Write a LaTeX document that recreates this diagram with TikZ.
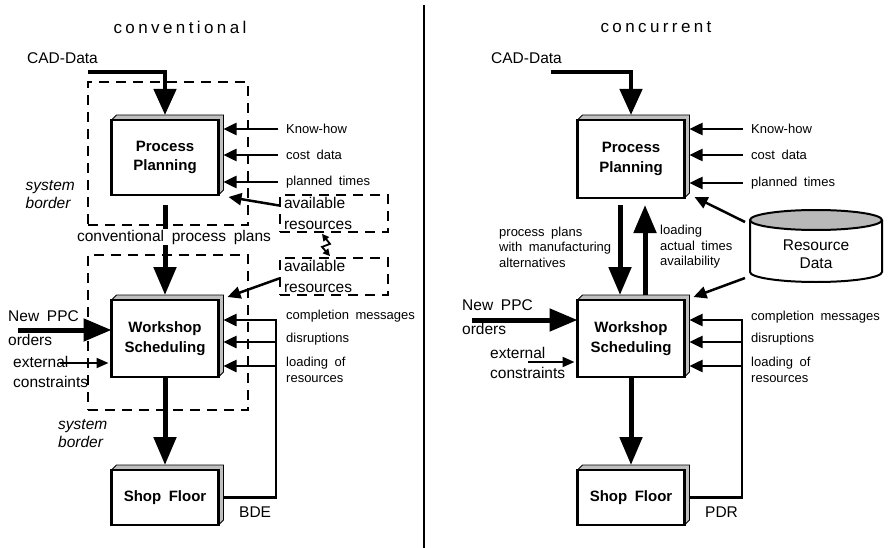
\documentclass[tikz,border=0pt]{standalone}
\usepackage{fontspec}
\setmainfont[WordSpace=1.8]{Liberation Sans}
\usetikzlibrary{arrows.meta,positioning}

\tikzstyle{block} = [rectangle, draw, line width=2.6pt, fill=white, minimum width=107pt,
    inner sep=0pt, outer sep=0pt, align=center, font=\fontsize{15}{19.5}\selectfont\bfseries]
\tikzstyle{txt} = [inner sep=0pt, align=left, font=\fontsize{13}{15.5}\selectfont]
\tikzstyle{bigtxt} = [inner sep=0pt, align=left, font=\fontsize{15.5}{18}\selectfont]
\tikzstyle{heading} = [inner sep=0pt, font=\fontsize{17}{20}\selectfont\addfontfeature{LetterSpace=20}]
\tikzstyle{sysborder} = [draw, line width=1.8pt, dash pattern=on 10pt off 7pt]
\tikzstyle{resbox} = [sysborder, text width=100pt, inner xsep=4pt, inner ysep=0pt,
    minimum height=37pt, align=left, font=\fontsize{15.5}{21}\selectfont]
\tikzstyle{flow} = [line width=5pt, -{Triangle[length=28pt,width=22pt]}]
\tikzstyle{cadflow} = [line width=4.5pt, -{Triangle[length=26pt,width=22pt]}]
\tikzstyle{arrow} = [line width=2.5pt, -{Triangle[length=13pt,width=12pt]}]
\tikzstyle{thinarrow} = [line width=2pt, -{Triangle[length=12pt,width=10pt]}]
\tikzstyle{zap} = [line width=1.8pt, {Triangle[length=7pt,width=7pt]}-{Triangle[length=7pt,width=7pt]}]

% shaded top and right side of a block
\newcommand{\boxdepth}[1]{%
  \filldraw[fill=gray!50, line width=0.8pt] (#1.north west) -- ++(5pt,5pt)
    -- ([shift={(5pt,5pt)}]#1.north east) -- ([shift={(5pt,5pt)}]#1.south east)
    -- (#1.south east) -- (#1.north east) -- cycle;
  \draw[line width=2.6pt] (#1.south west) rectangle (#1.north east);}

\begin{document}
\begin{tikzpicture}[x=1pt, y=-1pt, node distance=181pt]
    \useasboundingbox (0,0) rectangle (888,548);

    % Divider
    \coordinate (divTop) at (424,5);
    \coordinate (divBot) at (424,548);
    \draw[line width=2.5pt] (divTop) -- (divBot);

    % Titles
    \node[heading] (titleL) at (180,27) {conventional};
    \node[heading] (titleR) at (656,27) {concurrent};

    %%% conventional
    % System borders
    \node[sysborder, minimum width=160pt, minimum height=143pt] (sbTop) at (168,153.5) {};
    \node[sysborder, minimum width=160pt, minimum height=155pt] (sbBot) at (168,332.5) {};
    \node[bigtxt, anchor=east, font=\fontsize{15.5}{18}\selectfont\itshape] (sysL1) at (75,195) {system\\border};
    \node[bigtxt, anchor=west, font=\fontsize{15.5}{18}\selectfont\itshape] (sysL2) at (58,434) {system\\border};

    % Nodes
    \node[block, minimum height=75pt] (ppL) at (165,157.5) {Process\\Planning};
    \node[block, minimum height=77pt, below of=ppL] (wsL) {Workshop\\Scheduling};
    \node[block, minimum height=55pt, below of=wsL, node distance=159pt] (sfL) {Shop Floor};
    \boxdepth{ppL}
    \boxdepth{wsL}
    \boxdepth{sfL}

    \node[bigtxt, anchor=west] (cadL) at (27,58) {CAD-Data};
    \node[txt, anchor=west] (khL) at (286,129) {Know-how};
    \node[txt, anchor=west] (costL) at (286,155) {cost data};
    \node[txt, anchor=west] (timesL) at (286,182) {planned times};
    \node[resbox] (avail1) at (334,213.5) {available\\resources};
    \node[resbox] (avail2) at (334,276.5) {available\\resources};
    \node[bigtxt, anchor=west, font=\fontsize{15.5}{24}\selectfont] (newL) at (8,328) {New PPC\\orders};
    \node[bigtxt, anchor=west, font=\fontsize{15.5}{20}\selectfont] (extL) at (13,372) {external\\constraints};
    \node[txt, anchor=west] (cmL) at (286,316) {completion messages};
    \node[txt, anchor=west] (disL) at (286,339) {disruptions};
    \node[txt, anchor=west, font=\fontsize{13}{16}\selectfont] (loadL) at (286,370) {loading of\\resources};
    \node[bigtxt, anchor=west] (bdeL) at (239,512) {BDE};

    % Arrows
    \coordinate (cadLs) at (88,72);
    \draw[cadflow] (cadLs) -| ([yshift=5pt]ppL.north);
    \draw[arrow] ([xshift=-8pt]khL.west) -- ([xshift=5pt]ppL.east |- khL.west);
    \draw[arrow] ([xshift=-8pt]costL.west) -- ([xshift=5pt]ppL.east |- costL.west);
    \draw[arrow] ([xshift=-8pt]timesL.west) -- ([xshift=5pt]ppL.east |- timesL.west);
    \draw[arrow] ([yshift=8pt]avail1.west) -- ([xshift=10pt,yshift=-2pt]ppL.south east);
    \draw[arrow] ([yshift=-2pt]avail2.west) -- ([xshift=9pt,yshift=3pt]wsL.north east);
    \draw[zap] ([xshift=-12pt,yshift=-1pt]avail1.south) -- ++(8pt,-10pt) -- ++(-8pt,-3pt) -- ([xshift=-4pt,yshift=1pt]avail2.north);
    \draw[flow] ([yshift=-10pt]ppL.south) -- ([yshift=5pt]wsL.north);
    \node[bigtxt, fill=white, inner sep=1pt] (plansL) at (174,237) {conventional process plans};
    \draw[flow] (wsL.south) -- ([yshift=5pt]sfL.north);
    \draw[flow] ([xshift=10pt,yshift=-2pt]newL.west) -- (wsL.west |- 0,330);
    \coordinate (extLs) at ([xshift=47pt,yshift=9pt]extL.west);
    \draw[thinarrow] (extLs) -- ([xshift=-3pt]wsL.west |- extLs);
    \coordinate (fbL1) at (276,320);
    \coordinate (fbL2) at (276,342);
    \coordinate (fbL3) at (276,366);
    \draw[arrow] ([xshift=5pt]sfL.east) -| (fbL1) -- ([xshift=5pt]wsL.east |- fbL1);
    \draw[arrow] (fbL2) -- ([xshift=5pt]wsL.east |- fbL2);
    \draw[arrow] (fbL3) -- ([xshift=5pt]wsL.east |- fbL3);

    %%% concurrent
    % Nodes
    \node[block, minimum height=78pt] (ppR) at (631,159) {Process\\Planning};
    \node[block, minimum height=77pt, below of=ppR, node distance=179.5pt] (wsR) {Workshop\\Scheduling};
    \node[block, minimum height=55pt, below of=wsR, node distance=159pt] (sfR) {Shop Floor};
    \boxdepth{ppR}
    \boxdepth{wsR}
    \boxdepth{sfR}

    \coordinate (resC) at (816,246);
    \draw[line width=2pt, fill=white] ([shift={(-66pt,26pt)}]resC) -- ([shift={(-66pt,-26pt)}]resC)
        arc[start angle=180, end angle=360, x radius=66pt, y radius=10pt] -- ([shift={(66pt,26pt)}]resC);
    \filldraw[fill=gray!55, line width=2pt] ([yshift=26pt]resC) ellipse [x radius=66pt, y radius=10pt];
    \node[bigtxt, align=center] (res) at ([yshift=-8pt]resC) {Resource\\Data};

    \node[bigtxt, anchor=west] (cadR) at (491,58) {CAD-Data};
    \node[txt, anchor=west] (khR) at (751,129) {Know-how};
    \node[txt, anchor=west] (costR) at (751,155) {cost data};
    \node[txt, anchor=west] (timesR) at (751,183) {planned times};
    \node[txt, anchor=west] (plansR) at (499,247) {process plans\\with manufacturing\\alternatives};
    \node[txt, anchor=west] (loadingR) at (660,247) {loading\\actual times\\availability};
    \node[bigtxt, anchor=west, font=\fontsize{15.5}{24}\selectfont] (newR) at (462,317) {New PPC\\orders};
    \node[bigtxt, anchor=west, font=\fontsize{15.5}{20}\selectfont] (extR) at (490,363) {external\\constraints};
    \node[txt, anchor=west] (cmR) at (751,317) {completion messages};
    \node[txt, anchor=west] (disR) at (751,339) {disruptions};
    \node[txt, anchor=west, font=\fontsize{13}{16}\selectfont] (loadR) at (751,370) {loading of\\resources};
    \node[bigtxt, anchor=west] (pdrR) at (705,512) {PDR};

    % Arrows
    \coordinate (cadRs) at (551,72);
    \draw[cadflow] (cadRs) -| ([yshift=5pt]ppR.north);
    \draw[arrow] ([xshift=-8pt]khR.west) -- ([xshift=5pt]ppR.east |- khR.west);
    \draw[arrow] ([xshift=-8pt]costR.west) -- ([xshift=5pt]ppR.east |- costR.west);
    \draw[arrow] ([xshift=-8pt]timesR.west) -- ([xshift=5pt]ppR.east |- timesR.west);
    \coordinate (resOut1) at ([shift={(-71pt,24pt)}]resC);
    \coordinate (resOut2) at ([shift={(-71pt,-32pt)}]resC);
    \draw[arrow] (resOut1) -- ([xshift=10pt,yshift=1pt]ppR.south east);
    \draw[arrow] (resOut2) -- ([xshift=9pt,yshift=3pt]wsR.north east);
    \draw[flow] ([xshift=-11pt,yshift=-7pt]ppR.south) -- ([xshift=-11pt,yshift=5pt]wsR.north);
    \draw[flow] ([xshift=14pt,yshift=5pt]wsR.north) -- ([xshift=14pt,yshift=-7pt]ppR.south);
    \draw[flow] ([xshift=10pt,yshift=-3pt]newR.west) -- (wsR.west |- 0,320);
    \coordinate (extRs) at ([xshift=38pt,yshift=1pt]extR.west);
    \draw[thinarrow] (extRs) -- ([xshift=-3pt]wsR.west |- extRs);
    \draw[flow] (wsR.south) -- ([yshift=5pt]sfR.north);
    \coordinate (fbR1) at (742,320);
    \coordinate (fbR2) at (742,342);
    \coordinate (fbR3) at (742,366);
    \draw[arrow] ([xshift=5pt]sfR.east) -| (fbR1) -- ([xshift=5pt]wsR.east |- fbR1);
    \draw[arrow] (fbR2) -- ([xshift=5pt]wsR.east |- fbR2);
    \draw[arrow] (fbR3) -- ([xshift=5pt]wsR.east |- fbR3);
\end{tikzpicture}
\end{document}
